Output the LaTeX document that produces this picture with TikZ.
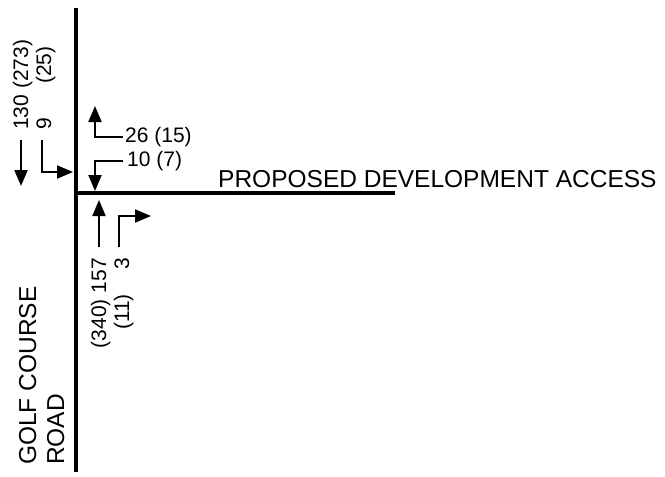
\documentclass[tikz,border=0pt]{standalone}
\usepackage{fontspec}
\setmainfont{Liberation Sans}
\usepackage{tikz}
\usetikzlibrary{arrows.meta}
\tikzset{
  road/.style={line width=3.5pt, black},
  move/.style={-{Triangle[length=16pt, width=13pt]}, line width=2pt, black},
  volume/.style={inner sep=0pt, font=\fontsize{21}{24}\selectfont},
  sidevolume/.style={volume, rotate=90},
  streetname/.style={inner sep=0pt, font=\fontsize{24.5}{28}\selectfont}
}

\begin{document}
\begin{tikzpicture}[x=1pt, y=-1pt]
  \useasboundingbox (0,0) rectangle (665,477);

  \draw[road] (76,8) -- (76,472);
  \draw[road] (76,193) -- (395,193);

  \node[streetname, anchor=base west] (access) at (218,187) {PROPOSED DEVELOPMENT ACCESS};
  \node[streetname, rotate=90, anchor=base west] (golf) at (36,465) {GOLF COURSE};
  \node[streetname, rotate=90, anchor=base west] (road) at (64,465) {ROAD};

  % southbound
  \coordinate (sbt0) at (21,140);
  \coordinate (sbt1) at (21,186);
  \coordinate (sbl0) at (42,140);
  \coordinate (sbl1) at (42,172);
  \coordinate (sbl2) at (73,172);
  \draw[move] (sbt0) -- (sbt1);
  \draw[move] (sbl0) -- (sbl1) -- (sbl2);
  \node[sidevolume, anchor=base west] (sbtvol) at (28,130) {130 (273)};
  \node[sidevolume, anchor=base west] (sblvol) at (51,130) {9};
  \node[sidevolume, anchor=base west] (sblpk) at (51,84) {(25)};

  % westbound
  \coordinate (wbl0) at (123,137);
  \coordinate (wbl1) at (95,137);
  \coordinate (wbl2) at (95,106);
  \coordinate (wbr0) at (123,161);
  \coordinate (wbr1) at (95,161);
  \coordinate (wbr2) at (95,191);
  \draw[move] (wbl0) -- (wbl1) -- (wbl2);
  \draw[move] (wbr0) -- (wbr1) -- (wbr2);
  \node[volume, anchor=base west] (wblvol) at (125,142) {26 (15)};
  \node[volume, anchor=base west] (wbrvol) at (127,166) {10 (7)};

  % northbound
  \coordinate (nbt0) at (99,247);
  \coordinate (nbt1) at (99,200);
  \coordinate (nbr0) at (119,247);
  \coordinate (nbr1) at (119,216);
  \coordinate (nbr2) at (151,216);
  \draw[move] (nbt0) -- (nbt1);
  \draw[move] (nbr0) -- (nbr1) -- (nbr2);
  \node[sidevolume, anchor=base east] (nbtvol) at (106,258) {(340) 157};
  \node[sidevolume, anchor=base east] (nbrvol) at (129,258) {3};
  \node[sidevolume, anchor=base east] (nbrpk) at (129,294) {(11)};
\end{tikzpicture}
\end{document}
